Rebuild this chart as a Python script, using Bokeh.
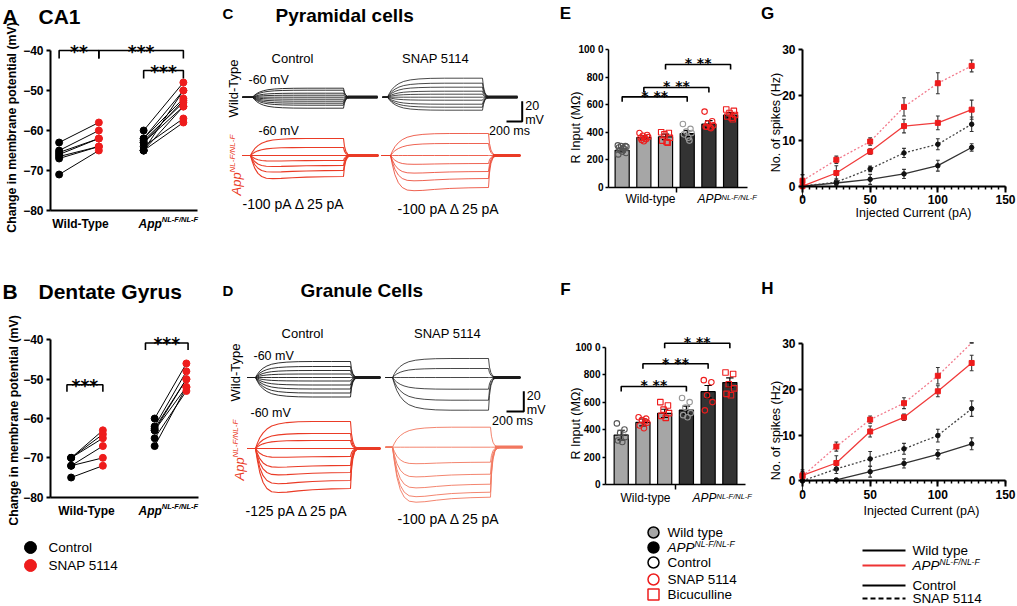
import math
from bokeh.plotting import figure
from bokeh.models import Range1d, Label, FixedTicker, LinearAxis
from bokeh.layouts import row, column
from bokeh.embed import file_html
from bokeh.resources import INLINE

FONT = "Liberation Sans"
STAR_FONT = "DejaVu Sans"
RED = "#ee1c1c"
SUP = "NL-F/NL-F"

# ------------------------------------------------------------------ data
# A  CA1 membrane potential (mV), paired Control -> SNAP 5114
A_wt_ctrl = [-63, -65, -65.5, -66, -66.5, -67, -71]
A_wt_snap = [-58, -60, -62, -62, -64, -64, -65]
A_app_ctrl = [-60, -62, -62, -62.5, -63, -63, -64, -65, -65, -65]
A_app_snap = [-48, -50, -52, -53, -52.5, -54, -57, -58, -54, -50]
A_br_x1 = [0.765, 1.235, 1.765]
A_br_x2 = [1.235, 2.235, 2.235]
A_br_y = [-40, -40, -45]
A_br_txt = ["**", "***", "***"]

# B  Dentate gyrus membrane potential (mV)
B_wt_ctrl = [-70, -70, -70, -72, -72, -75]
B_wt_snap = [-63, -64, -65, -67, -70, -72]
B_app_ctrl = [-60, -62, -62.5, -63, -63, -65, -67]
B_app_snap = [-46, -48, -50, -50, -52, -53, -52]
B_br_x1 = [0.76, 1.70]
B_br_x2 = [1.19, 2.21]
B_br_y = [-51.4, -40.8]
B_br_txt = ["***", "***"]
MV_TICKS = [-80, -70, -60, -50, -40]

# C / D  steady voltage deflection of each sweep (mV)
C_wt_ctrl = [9, 7, 4, 2, 0, -2, -4, -6, -8, -11]
C_wt_snap = [19, 14, 10, 6, 3, 0, -3, -7, -10, -13]
C_app_ctrl = [17, 8, 0, -5, -10, -15, -21]
C_app_snap = [22, 12, 0, -8, -16, -23, -32]
D_wt_ctrl = [16, 11, 7, 3.5, 0, -3.5, -7.5, -11.5, -15.5, -19.5]
D_wt_snap = [19, 9, 0, -11.7, -22.7, -32.7]
D_app_ctrl = [27, 15, 8, 0, -8, -17, -24, -32, -40]
D_app_snap = [20, 0, -15, -27, -37, -45, -50]
# response time course read from the sweeps (fraction of steady level)
T_STEP = [0, 20, 45, 80, 120, 170, 240, 330, 450, 600, 800, 1000]
RISE = [0, 0.2, 0.4, 0.58, 0.72, 0.83, 0.91, 0.96, 0.99, 1.0, 1.0, 1.0]
SAG = [0, 0.3, 0.6, 0.85, 1.0, 1.08, 1.1, 1.09, 1.06, 1.03, 1.01, 1.0]
T_OFF = [0, 10, 25, 45, 70, 110]
DECAY = [1.0, 0.55, 0.25, 0.08, 0.02, 0.0]

# E / F  input resistance (MOhm)
E_mean = [270, 362, 367, 391, 459, 524]
E_sem = [12, 12, 20, 22, 25, 18]
E_pts = [[305, 300, 300, 295, 290, 285, 280, 270, 260, 250, 240],
         [395, 380, 375, 365, 360, 355, 350, 345, 335],
         [400, 395, 385, 360, 340, 330, 325],
         [460, 425, 405, 395, 385, 360, 340],
         [550, 480, 465, 450, 440, 435, 430, 440],
         [565, 555, 540, 525, 515, 505, 495]]
E_br = [(1, 4, 657), (2, 5, 725), (3, 6, 891)]
F_mean = [360, 452, 518, 542, 676, 742]
F_sem = [35, 25, 30, 28, 45, 35]
F_pts = [[445, 400, 375, 345, 320, 310],
         [490, 480, 470, 450, 430, 410, 460],
         [600, 575, 545, 520, 500, 485],
         [630, 600, 560, 520, 505, 490],
         [760, 745, 650, 600, 540],
         [815, 805, 730, 700, 660, 650]]
F_br = [(1, 4, 714), (2, 5, 879), (3, 6, 1029)]
BAR_TICKS = [0, 200, 400, 600, 800, 1000]

# G / H  spikes (Hz) vs injected current (pA)
CUR = [0, 25, 50, 75, 100, 125]
G_app_snap = [1.2, 5.8, 9.8, 17.4, 22.6, 26.4]
G_app_snap_e = [1.3, 0.8, 0.8, 2.0, 2.3, 1.3]
G_app_ctrl = [0, 2.9, 7.6, 13.2, 13.9, 16.8]
G_app_ctrl_e = [0, 1.6, 0.6, 1.5, 1.5, 2.1]
G_wt_snap = [0, 0.9, 3.8, 7.3, 9.2, 13.6]
G_wt_snap_e = [2.5, 0.7, 0.6, 1.0, 1.2, 1.6]
G_wt_ctrl = [0, 0.7, 1.5, 2.7, 4.5, 8.5]
G_wt_ctrl_e = [0, 0.5, 1.1, 1.0, 1.2, 0.8]
H_app_snap = [1.0, 7.5, 13.4, 17.0, 23.0, 30.2]
H_app_snap_e = [1.0, 1.0, 0.8, 1.2, 1.8, 0]
H_app_ctrl = [1.2, 3.9, 10.8, 13.9, 19.6, 25.8]
H_app_ctrl_e = [0.4, 1.6, 1.2, 0.7, 1.2, 1.7]
H_wt_snap = [0, 2.6, 4.8, 7.0, 9.9, 15.8]
H_wt_snap_e = [2.4, 1.0, 1.6, 1.2, 1.4, 1.7]
H_wt_ctrl = [0, 0.2, 2.0, 3.8, 5.8, 8.1]
H_wt_ctrl_e = [0, 0.3, 1.2, 1.0, 1.0, 1.3]
SPK_TICKS = [0, 10, 20, 30]
CUR_TICKS = [0, 50, 100, 150]


# ------------------------------------------------------------------ helpers
class Frame:
    """Linear map between local canvas pixels and data (plot area fl..fr, ft..fb)."""

    def __init__(s, xr, yr, fl, fr, ft, fb):
        s.xr, s.yr, s.fl, s.fr, s.ft, s.fb = xr, yr, fl, fr, ft, fb

    def x(s, px):
        return s.xr[0] + (px - s.fl) * (s.xr[1] - s.xr[0]) / (s.fr - s.fl)

    def y(s, py):
        return s.yr[1] - (py - s.ft) * (s.yr[1] - s.yr[0]) / (s.fb - s.ft)

    def dy(s, dpx):
        return dpx * abs(s.yr[1] - s.yr[0]) / (s.fb - s.ft)


def make_fig(w, h, F):
    p = figure(width=w, height=h,
               x_range=Range1d(F.x(0), F.x(w)), y_range=Range1d(F.y(h), F.y(0)),
               output_backend="svg", toolbar_location=None, title=None,
               x_axis_location=None, y_axis_location=None,
               min_border=0, min_border_left=0, min_border_right=0,
               min_border_top=0, min_border_bottom=0, margin=(0, 0, 0, 0))
    p.outline_line_color = None
    p.grid.visible = False
    p.background_fill_color = "white"
    p.border_fill_color = "white"
    return p


def blank(w, h):
    F = Frame((0, w), (h, 0), 0, w, 0, h)
    return make_fig(w, h, F), F


def txt(p, F, px, py, s, size, style="normal", color="black", align="left",
        base="middle", angle=0.0):
    p.add_layout(Label(x=F.x(px), y=F.y(py), text=s, text_font=FONT,
                       text_font_size=f"{size}px", text_font_style=style,
                       text_color=color, text_align=align, text_baseline=base,
                       angle=angle))


def sup_txt(p, F, px, py, s, size, em, sup, ssize, style, color="black", rise=4):
    txt(p, F, px, py, s, size, style, color)
    txt(p, F, px + em * size, py - rise, sup, ssize, style, color)


def style_axis(ax, size="12px", width=2, tick_out=4):
    ax.axis_line_width = width
    ax.axis_line_color = "black"
    ax.major_tick_line_width = width
    ax.major_tick_line_color = "black"
    ax.major_tick_in = 0
    ax.major_tick_out = tick_out
    ax.minor_tick_line_color = None
    ax.major_label_text_font = FONT
    ax.major_label_text_font_size = size
    ax.major_label_text_font_style = "bold"
    ax.major_label_text_color = "black"
    ax.major_label_standoff = 3


def add_axes(p, F, ybounds, yticks, xticks, size="12px", width=2, ytick=4, xtick=4):
    ya = LinearAxis(fixed_location=F.xr[0], bounds=ybounds,
                    ticker=FixedTicker(ticks=yticks))
    style_axis(ya, size, width, ytick)
    p.add_layout(ya, "left")
    xa = LinearAxis(fixed_location=F.yr[0], bounds=(F.xr[0], F.xr[1]),
                    ticker=FixedTicker(ticks=xticks))
    style_axis(xa, size, width, xtick)
    p.add_layout(xa, "below")
    return ya, xa


def brackets(p, F, x1s, x2s, ys, labels, drop_px, star_px, size):
    xs, yy = [], []
    for a, b, y in zip(x1s, x2s, ys):
        d = F.dy(drop_px)
        xs.append([a, a, b, b])
        yy.append([y - d, y, y, y - d])
    p.multi_line(xs, yy, line_color="black", line_width=1.6)
    for a, b, y, lab in zip(x1s, x2s, ys, labels):
        xm = (a + b) / 2
        yc = y + F.dy(star_px) - F.dy(0.6 * size)
        p.add_layout(Label(x=xm, y=yc, text=lab, text_font=STAR_FONT,
                           text_font_size=f"{size}px", text_font_style="bold",
                           text_color="black",
                           text_align="center", text_baseline="alphabetic"))


# ------------------------------------------------------------------ A / B
def potential_panel(w, h, F, off, wc, ws, ac, as_):
    p = make_fig(w, h, F)
    for g, c, s in ((1, wc, ws), (2, ac, as_)):
        n = len(c)
        p.segment([g - off] * n, c, [g + off] * n, s, line_color="black", line_width=1)
        p.scatter([g - off] * n, c, size=7, color="black")
        p.scatter([g + off] * n, s, size=7, color=RED)
    add_axes(p, F, (-80, -40), MV_TICKS, [], xtick=0)
    return p


W1, W2, W3, W4 = 203, 344, 213, 256
HT, HB = 278, 327

FA = Frame((0.663, 2.402), (-80, -36), 50, 197, 34, 210)
pA = potential_panel(W1, HT, FA, 0.235, A_wt_ctrl, A_wt_snap, A_app_ctrl, A_app_snap)
brackets(pA, FA, A_br_x1, A_br_x2, A_br_y, A_br_txt, 8, 8.3, 17)
txt(pA, FA, 2, 16, "A", 21, "bold")
txt(pA, FA, 38, 16, "CA1", 21, "bold")
txt(pA, FA, 11, 127, "Change in membrane potential (mV)", 12.3, "bold",
    align="center", angle=math.pi / 2)
txt(pA, FA, 80, 223, "Wild-Type", 12, "bold", align="center")
sup_txt(pA, FA, 138, 223, "App", 12, 1.944, SUP, 7.5, "bold italic")

FB = Frame((0.563, 2.335), (-80, -36), 50, 198, 45.6, 218.7)
pB = potential_panel(W1, 247, FB, 0.19, B_wt_ctrl, B_wt_snap, B_app_ctrl, B_app_snap)
brackets(pB, FB, B_br_x1, B_br_x2, B_br_y, B_br_txt, 7, 9, 17)
txt(pB, FB, 2, 13, "B", 21, "bold")
txt(pB, FB, 38, 13, "Dentate Gyrus", 21, "bold")
txt(pB, FB, 13, 142, "Change in membrane potential (mV)", 12.3, "bold",
    align="center", angle=math.pi / 2)
txt(pB, FB, 86, 232, "Wild-Type", 12, "bold", align="center")
sup_txt(pB, FB, 138, 232, "App", 12, 1.944, SUP, 7.5, "bold italic")

pLB, FLB = blank(W1, HB - 247)
pLB.scatter([30, 30], [22, 40], size=12, color=["black", RED])
txt(pLB, FLB, 48, 22, "Control", 13.5)
txt(pLB, FLB, 48, 40, "SNAP 5114", 13.5)


# ------------------------------------------------------------------ C / D
def draw_traces(p, levels, start, onset, end, tail, base, color, width, sag):
    k = (end - onset) / T_STEP[-1]
    xs, ys = [], []
    for lv in levels:
        shape = SAG if (sag and lv < 0) else RISE
        x = [start, onset] + [onset + t * k for t in T_STEP[1:]] + \
            [end + t * k for t in T_OFF[1:]] + [tail]
        y = [base, base] + [base - lv * f for f in shape[1:]] + \
            [base - lv * f for f in DECAY[1:]] + [base]
        xs.append(x)
        ys.append(y)
    p.multi_line(xs, ys, line_color=color, line_width=width)
    p.line([end + T_OFF[3] * k, tail], [base, base], line_color=color, line_width=3.2)


def scale_bar(p, F, xv, ytop, ybot, xleft, ty20, tymv, tyms, txms):
    p.line([xleft, xv, xv], [ybot, ybot, ytop], line_color="black", line_width=2)
    txt(p, F, xv + 3, ty20, "20", 12.5)
    txt(p, F, xv + 3, tymv, "mV", 12.5)
    txt(p, F, txms, tyms, "200 ms", 12.5, align="center")


BLK = "#1a1a1a"
RC = "#ea3b26"
RS = "#f2775f"

pC, FC = blank(W2, HT)
draw_traces(pC, C_wt_ctrl, 39, 49, 140, 174, 96.7, BLK, 0.9, False)
draw_traces(pC, C_wt_snap, 179, 184, 279, 314, 96.7, BLK, 0.8, False)
draw_traces(pC, C_app_ctrl, 39, 47, 140, 175, 155, RC, 1.1, True)
draw_traces(pC, C_app_snap, 178, 187, 285, 317, 155, RC, 0.8, True)
scale_bar(pC, FC, 318.7, 100.7, 121, 303, 105, 119, 130, 306)
txt(pC, FC, 19, 13, "C", 15, "bold")
txt(pC, FC, 72, 15, "Pyramidal cells", 19, "bold")
txt(pC, FC, 89, 58, "Control", 13, align="center")
txt(pC, FC, 232, 58, "SNAP 5114", 13, align="center")
txt(pC, FC, 30, 88, "Wild-Type", 13, align="center", angle=math.pi / 2)
txt(pC, FC, 45, 79, "-60 mV", 12.5)
txt(pC, FC, 55, 130, "-60 mV", 12.5)
txt(pC, FC, 33, 195, "App", 13, "italic", RC, angle=math.pi / 2)
txt(pC, FC, 29, 172, SUP, 8, "italic", RC, angle=math.pi / 2)
txt(pC, FC, 39, 203, "-100 pA \u0394 25 pA", 14)
txt(pC, FC, 194, 208, "-100 pA \u0394 25 pA", 14)

pD, FD = blank(W2, HB)
draw_traces(pD, D_wt_ctrl, 44, 52, 147, 177, 99, BLK, 0.9, False)
draw_traces(pD, D_wt_snap, 182, 189, 285, 317, 99, BLK, 0.8, False)
draw_traces(pD, D_app_ctrl, 44, 52, 147, 177, 170, RC, 1.1, True)
draw_traces(pD, D_app_snap, 182, 189, 287, 319, 168.7, RS, 0.9, True)
scale_bar(pD, FD, 320.3, 112.7, 133, 303, 117, 131, 142, 309)
txt(pD, FD, 19, 12, "D", 15, "bold")
txt(pD, FD, 97, 12, "Granule Cells", 19, "bold")
txt(pD, FD, 99, 55, "Control", 13, align="center")
txt(pD, FD, 244, 55, "SNAP 5114", 13, align="center")
txt(pD, FD, 32, 94, "Wild-Type", 13, align="center", angle=math.pi / 2)
txt(pD, FD, 50, 77, "-60 mV", 12.5)
txt(pD, FD, 47, 134, "-60 mV", 12.5)
txt(pD, FD, 36, 202, "App", 13, "italic", RC, angle=math.pi / 2)
txt(pD, FD, 32, 179, SUP, 8, "italic", RC, angle=math.pi / 2)
txt(pD, FD, 42, 232, "-125 pA \u0394 25 pA", 14)
txt(pD, FD, 194, 240, "-100 pA \u0394 25 pA", 14)


# ------------------------------------------------------------------ E / F
JIT = [-0.2, 0.15, -0.05, 0.2, -0.15, 0.05, 0.1, -0.1, 0.0, 0.18, -0.18, 0.08]
BAR_FILL = ["#a6a6a6"] * 3 + ["#333333"] * 3
PT_MARK = ["circle", "circle", "square", "circle", "circle", "square"]
PT_COL = ["#555555", RED, RED, "#9a9a9a", RED, RED]


def bar_panel(w, h, F, means, sems, pts, brs):
    p = make_fig(w, h, F)
    xs = list(range(1, len(means) + 1))
    p.vbar(x=xs, top=means, width=0.65, fill_color=BAR_FILL, line_color="black",
           line_width=1.2)
    hi = [m + s for m, s in zip(means, sems)]
    lo = [m - s for m, s in zip(means, sems)]
    p.segment(xs, lo, xs, hi, line_color="black", line_width=1.2)
    p.segment([x - 0.17 for x in xs], hi, [x + 0.17 for x in xs], hi,
              line_color="black", line_width=1.2)
    p.segment([x - 0.17 for x in xs], lo, [x + 0.17 for x in xs], lo,
              line_color="black", line_width=1.2)
    for i, vals in enumerate(pts):
        px = [xs[i] + JIT[j % len(JIT)] for j in range(len(vals))]
        p.scatter(px, vals, marker=PT_MARK[i], size=5.5, fill_alpha=0,
                  line_color=PT_COL[i], line_width=1.1)
    brackets(p, F, [b[0] for b in brs], [b[1] for b in brs], [b[2] for b in brs],
             ["* **"] * len(brs), 5, 9.5, 14)
    ya, xa = add_axes(p, F, (0, 1000), BAR_TICKS, [3.5], size="10px", width=1.5,
                      ytick=3, xtick=5)
    ya.major_label_overrides = {1000: "100 0"}
    ya.major_label_standoff = 2
    xa.major_label_overrides = {3.5: ""}
    return p


FE = Frame((0.37, 6.78), (0, 1000), 61, 200, 49, 187)
pE = bar_panel(W3, HT, FE, E_mean, E_sem, E_pts, E_br)
txt(pE, FE, 18, 13, "E", 17, "bold", align="center")
txt(pE, FE, 28, 127, "R Input (M\u03a9)", 12.5, align="center", angle=math.pi / 2)
txt(pE, FE, 103, 198, "Wild-type", 12, align="center")
sup_txt(pE, FE, 150, 198, "APP", 12, 2.0, SUP, 7.5, "italic", rise=1.5)

FFr = Frame((0.277, 6.72), (0, 1050), 58, 198, 61.8, 206)
pF = bar_panel(W3, 230, FFr, F_mean, F_sem, F_pts, F_br)
txt(pF, FFr, 18, 11, "F", 17, "bold", align="center")
txt(pF, FFr, 28, 145, "R Input (M\u03a9)", 12.5, align="center", angle=math.pi / 2)
txt(pF, FFr, 98, 219, "Wild-type", 12, align="center")
sup_txt(pF, FFr, 145, 219, "APP", 12, 2.0, SUP, 7.5, "italic", rise=1.5)

pLF, FLF = blank(W3, HB - 230)
LY = [24, 39, 54, 71, 86]
pLF.scatter([106] * 2, LY[:2], size=11, fill_color=["#a6a6a6", "black"],
            line_color="black", line_width=1.5)
pLF.scatter([106], [LY[2]], size=11, fill_alpha=0, line_color="black", line_width=1.5)
pLF.scatter([106], [LY[3]], size=11, fill_alpha=0, line_color=RED, line_width=1.5)
pLF.scatter([106], [LY[4]], marker="square", size=11, fill_alpha=0, line_color=RED,
            line_width=1.5)
txt(pLF, FLF, 120, LY[0], "Wild type", 13.5)
sup_txt(pLF, FLF, 120, LY[1], "APP", 13.5, 2.0, SUP, 8.5, "italic", rise=4)
txt(pLF, FLF, 120, LY[2], "Control", 13.5)
txt(pLF, FLF, 120, LY[3], "SNAP 5114", 13.5)
txt(pLF, FLF, 120, LY[4], "Bicuculline", 13.5)


# ------------------------------------------------------------------ G / H
def series(p, y, e, color, dash, marker, mcolor, msize, ymax=30):
    p.line(CUR, y, line_color=color, line_width=1.3, line_dash=dash)
    hi = [a + b for a, b in zip(y, e)]
    lo = [a - b for a, b in zip(y, e)]
    p.segment(CUR, lo, CUR, hi, line_color="#333333", line_width=1.1)
    p.segment([c - 1.4 for c in CUR], hi, [c + 1.4 for c in CUR], hi,
              line_color="#333333", line_width=1.1)
    p.segment([c - 1.4 for c in CUR], lo, [c + 1.4 for c in CUR], lo,
              line_color="#333333", line_width=1.1)
    keep = [i for i, v in enumerate(y) if v <= ymax]
    p.scatter([CUR[i] for i in keep], [y[i] for i in keep], marker=marker,
              size=msize, color=mcolor)


def spike_panel(w, h, F, wc, wce, ws, wse, ac, ace, as_, ase):
    p = make_fig(w, h, F)
    series(p, wc, wce, "#333333", "solid", "circle", "#111111", 4.5)
    series(p, ws, wse, "#444444", "2 2", "circle", "#111111", 4.5)
    series(p, ac, ace, "#f03c3c", "solid", "square", RED, 5)
    series(p, as_, ase, "#f27a8c", "2 2", "square", RED, 5)
    ya, xa = add_axes(p, F, (0, 30), SPK_TICKS, CUR_TICKS, xtick=6)
    xa.ticker = FixedTicker(ticks=CUR_TICKS, minor_ticks=list(range(0, 151, 5)))
    xa.minor_tick_line_color = "black"
    xa.minor_tick_line_width = 1.5
    xa.minor_tick_in = 0
    xa.minor_tick_out = 3
    return p


FG = Frame((0, 150), (0, 30), 42, 245, 49, 185.7)
pG = spike_panel(W4, HT, FG, G_wt_ctrl, G_wt_ctrl_e, G_wt_snap, G_wt_snap_e,
                 G_app_ctrl, G_app_ctrl_e, G_app_snap, G_app_snap_e)
txt(pG, FG, 7, 13, "G", 17, "bold", align="center")
txt(pG, FG, 15.5, 122, "No. of spikes (Hz)", 12.5, align="center", angle=math.pi / 2)
txt(pG, FG, 153, 212, "Injected Current (pA)", 12.5, align="center")

FH = Frame((0, 150), (0, 30), 42, 245, 65.3, 202.3)
pH = spike_panel(W4, 247, FH, H_wt_ctrl, H_wt_ctrl_e, H_wt_snap, H_wt_snap_e,
                 H_app_ctrl, H_app_ctrl_e, H_app_snap, H_app_snap_e)
txt(pH, FH, 7, 10, "H", 17, "bold", align="center")
txt(pH, FH, 15.5, 152, "No. of spikes (Hz)", 12.5, align="center", angle=math.pi / 2)
txt(pH, FH, 161, 232, "Injected Current (pA)", 12.5, align="center")

pLH, FLH = blank(W4, HB - 247)
HY = [25, 40, 60, 73]
pLH.segment([102] * 3, HY[:3], [145] * 3, HY[:3], line_color=["black", "#ee3333", "black"],
            line_width=2)
pLH.segment([102], [HY[3]], [145], [HY[3]], line_color="black", line_width=2,
            line_dash="5 3")
txt(pLH, FLH, 152, HY[0], "Wild type", 13.5)
sup_txt(pLH, FLH, 152, HY[1], "APP", 13.5, 2.0, SUP, 8.5, "italic", rise=4)
txt(pLH, FLH, 152, HY[2], "Control", 13.5)
txt(pLH, FLH, 152, HY[3], "SNAP 5114", 13.5)

layout = row(column(pA, pB, pLB, spacing=0), column(pC, pD, spacing=0),
             column(pE, pF, pLF, spacing=0), column(pG, pH, pLH, spacing=0),
             spacing=0)
open("out.html", "w").write(file_html(layout, INLINE))
